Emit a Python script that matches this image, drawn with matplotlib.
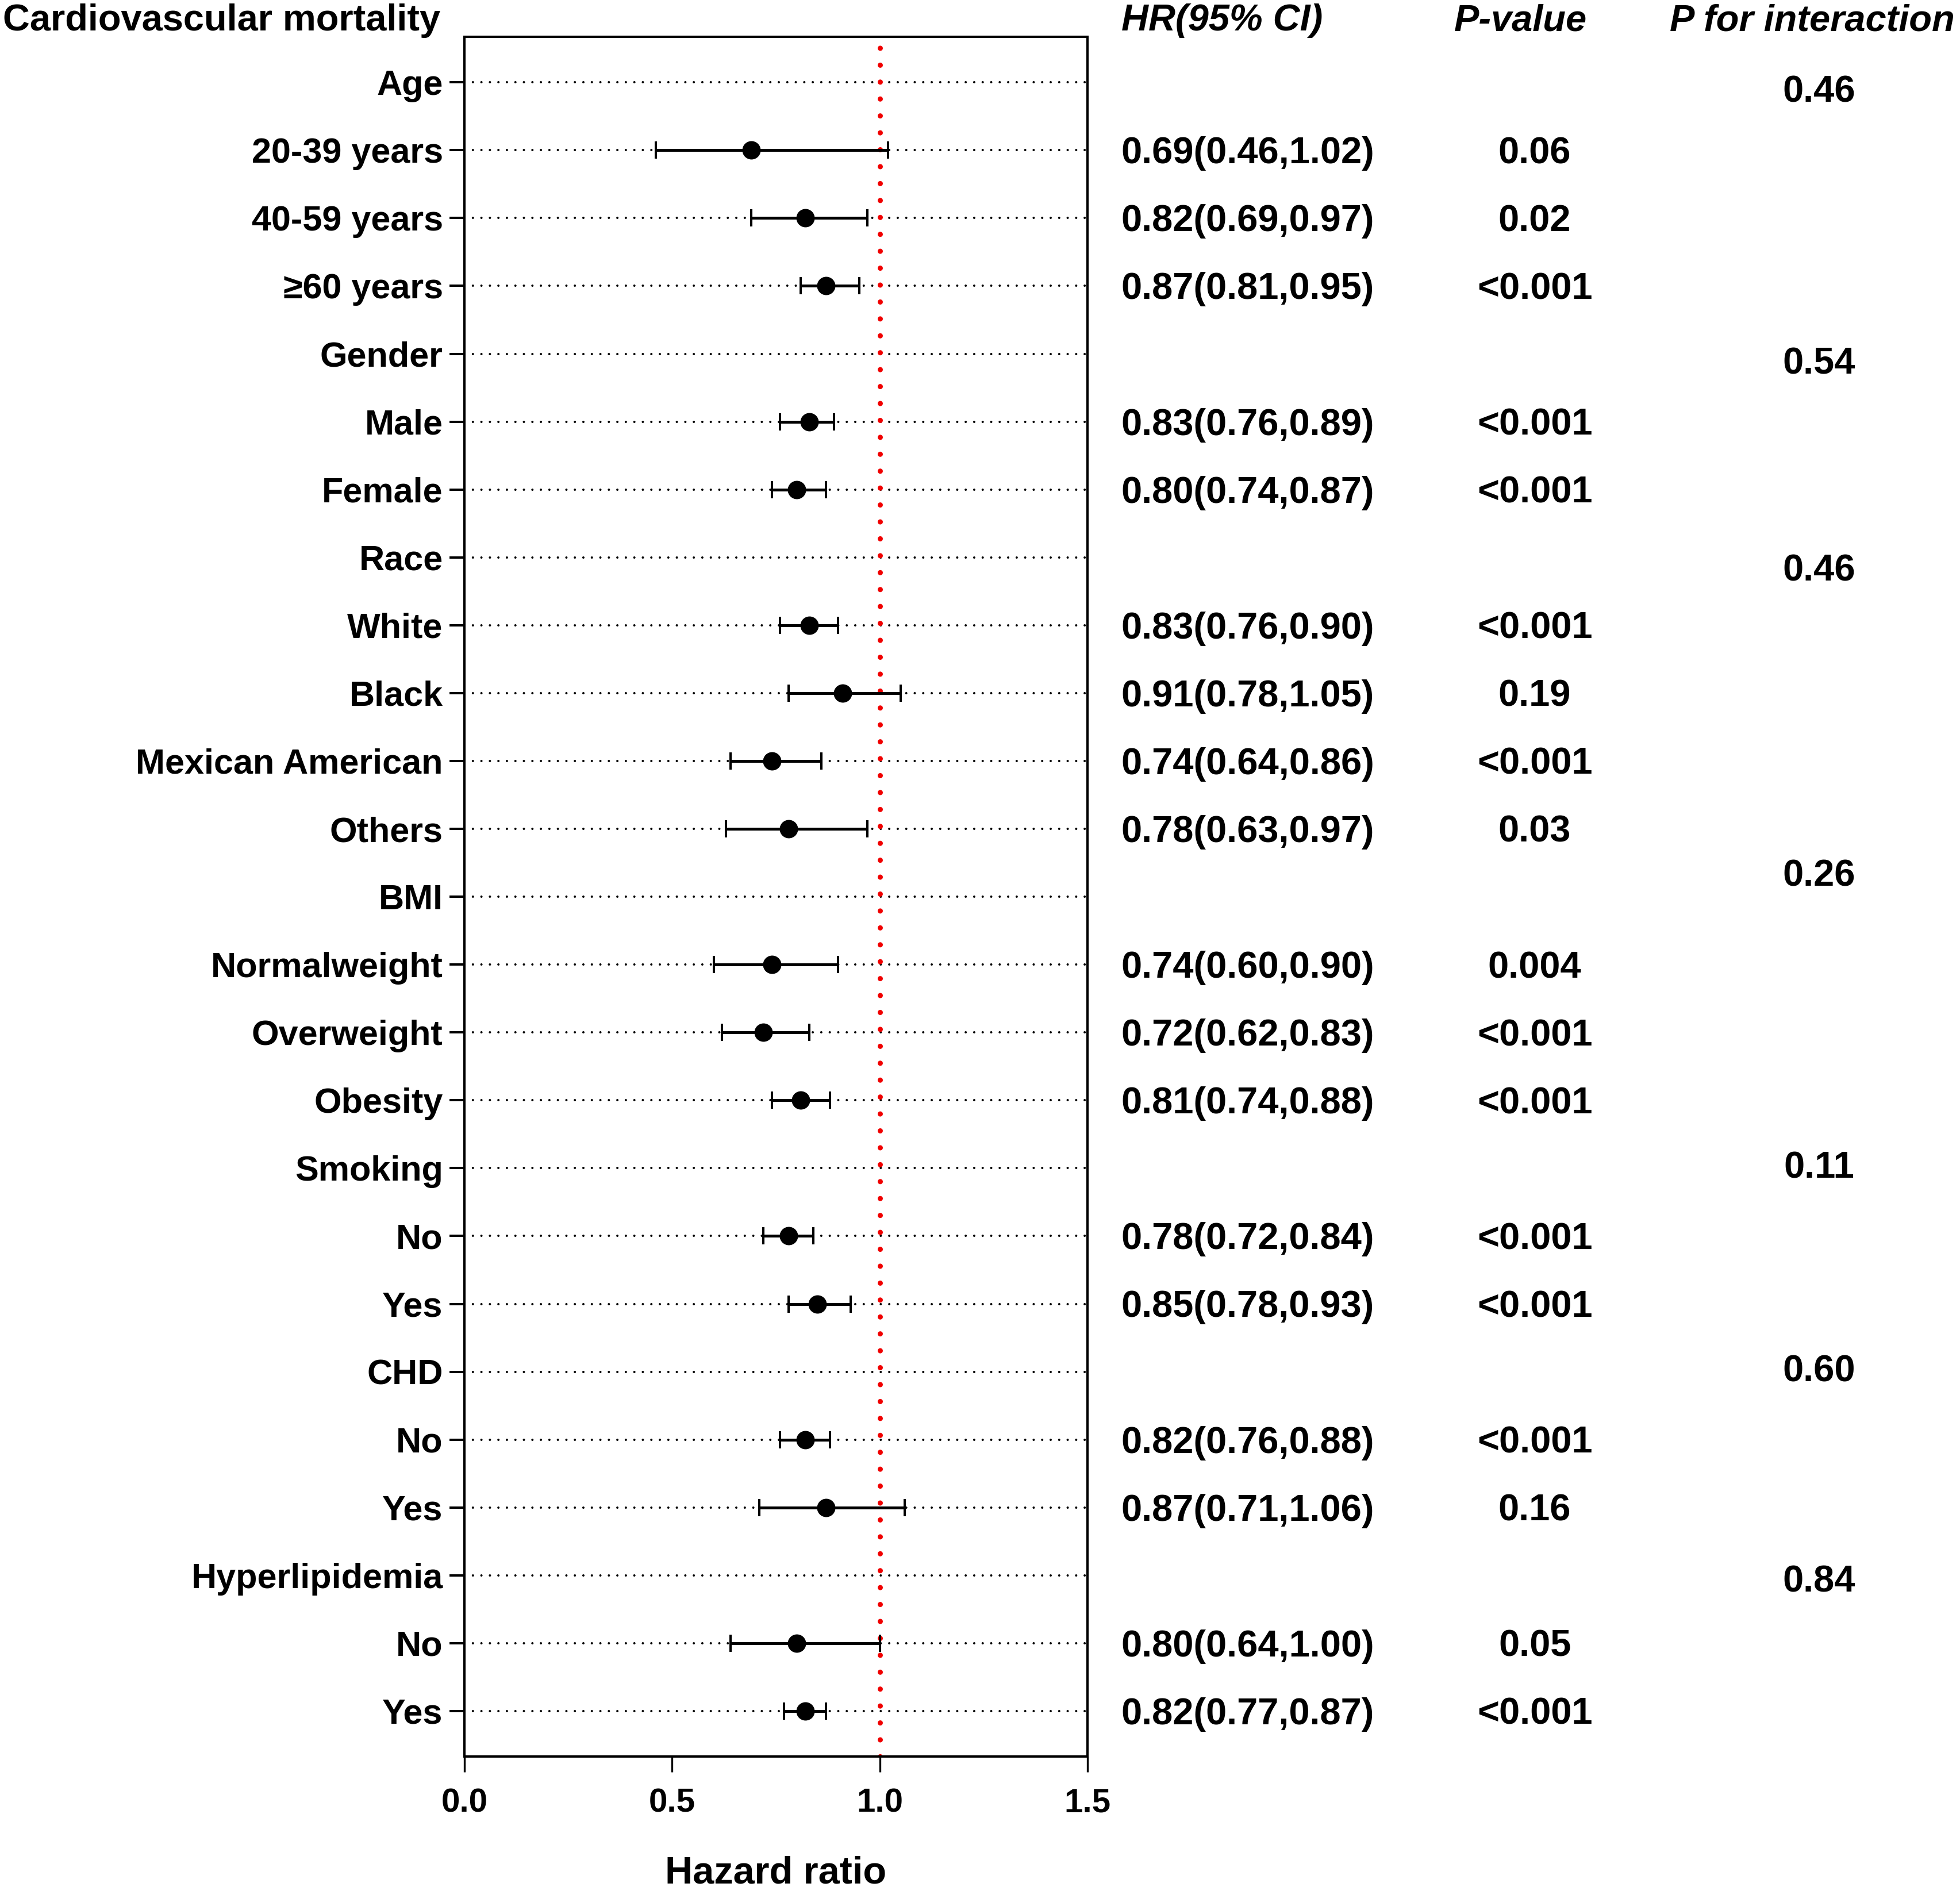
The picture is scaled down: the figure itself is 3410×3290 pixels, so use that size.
import numpy as np
import matplotlib
matplotlib.use("Agg")
import matplotlib.pyplot as plt
import matplotlib.transforms as mtransforms

plt.rcParams['font.family'] = ['Liberation Sans', 'DejaVu Sans']
plt.rcParams['font.weight'] = 'bold'

# dados do forest plot (linhas de cabeçalho sem estimativa -> NaN)
labels = ["Age", "20-39 years", "40-59 years", "\u226560 years",
          "Gender", "Male", "Female",
          "Race", "White", "Black", "Mexican American", "Others",
          "BMI", "Normalweight", "Overweight", "Obesity",
          "Smoking", "No", "Yes",
          "CHD", "No", "Yes",
          "Hyperlipidemia", "No", "Yes"]
hr = [np.nan, 0.69, 0.82, 0.87, np.nan, 0.83, 0.80, np.nan, 0.83, 0.91, 0.74, 0.78,
      np.nan, 0.74, 0.72, 0.81, np.nan, 0.78, 0.85, np.nan, 0.82, 0.87, np.nan, 0.80, 0.82]
lo = [np.nan, 0.46, 0.69, 0.81, np.nan, 0.76, 0.74, np.nan, 0.76, 0.78, 0.64, 0.63,
      np.nan, 0.60, 0.62, 0.74, np.nan, 0.72, 0.78, np.nan, 0.76, 0.71, np.nan, 0.64, 0.77]
hi = [np.nan, 1.02, 0.97, 0.95, np.nan, 0.89, 0.87, np.nan, 0.90, 1.05, 0.86, 0.97,
      np.nan, 0.90, 0.83, 0.88, np.nan, 0.84, 0.93, np.nan, 0.88, 1.06, np.nan, 1.00, 0.87]
p_values = ["", "0.06", "0.02", "<0.001", "", "<0.001", "<0.001", "", "<0.001", "0.19",
            "<0.001", "0.03", "", "0.004", "<0.001", "<0.001", "", "<0.001", "<0.001",
            "", "<0.001", "0.16", "", "0.05", "<0.001"]
p_interaction = ["0.46", "0.54", "0.46", "0.26", "0.11", "0.60", "0.84"]
# posição vertical (em unidades de linha) de cada P de interação
pint_rows = [0.15, 4.15, 7.2, 11.7, 16.0, 19.0, 22.1]
xticks = [0.0, 0.5, 1.0, 1.5]

hr = np.array(hr)
lo = np.array(lo)
hi = np.array(hi)
rows = np.arange(len(labels))

fig = plt.figure(figsize=(17.05, 16.45), dpi=200)
ax = fig.add_axes([0.237, 0.0711, 0.3178, 0.9094])

# linhas pontilhadas de referência
ax.hlines(rows, 0, 1.5, colors='black', linestyles=(0, (0.01, 3.66)), linewidth=1.45,
          capstyle='round', zorder=1)
ax.axvline(1.0, color='#f00000', linestyle=(0, (0.01, 3.25)), linewidth=3.25,
           dash_capstyle='round', zorder=2)

ok = ~np.isnan(hr)
ax.errorbar(hr[ok], rows[ok], xerr=[hr[ok] - lo[ok], hi[ok] - hr[ok]], fmt='o',
            color='black', ms=10.5, elinewidth=1.8, capsize=5.3, capthick=1.45, zorder=3)

ax.set_xlim(0, 1.5)
ax.set_ylim(len(labels) - 0.33, -0.67)
ax.set_yticks(rows)
ax.set_yticklabels(labels, fontsize=22, fontweight='bold')
ax.set_xticks(xticks)
ax.set_xticklabels([f"{t:.1f}" for t in xticks], fontsize=21, fontweight='bold')
ax.tick_params(axis='y', length=9.5, width=1.45, pad=4)
ax.tick_params(axis='x', length=9.7, width=1.2, pad=10)
for s in ax.spines.values():
    s.set_linewidth(1.45)
ax.set_xlabel("Hazard ratio", fontsize=24, fontweight='bold', labelpad=23)

# colunas de texto à direita
trans = mtransforms.blended_transform_factory(fig.transFigure, ax.transData)
for r in rows:
    if ok[r]:
        ax.text(0.572, r + 0.05, f"{hr[r]:.2f}({lo[r]:.2f},{hi[r]:.2f})", transform=trans,
                ha='left', va='center', fontsize=23.4, fontweight='bold', clip_on=False)
        ax.text(0.783, r + 0.05, p_values[r], transform=trans,
                ha='center', va='center', fontsize=23.4, fontweight='bold', clip_on=False)
for yy, txt in zip(pint_rows, p_interaction):
    ax.text(0.928, yy, txt, transform=trans, ha='center', va='center',
            fontsize=23.4, fontweight='bold', clip_on=False)

fig.text(0.0015, 0.989, "Cardiovascular mortality", ha='left', va='center',
         fontsize=23.4, fontweight='bold')
fig.text(0.572, 0.989, "HR(95% CI)", ha='left', va='center', fontsize=23.4,
         fontweight='bold', style='italic')
fig.text(0.742, 0.989, "P-value", ha='left', va='center', fontsize=23.4,
         fontweight='bold', style='italic')
fig.text(0.852, 0.989, "P for interaction", ha='left', va='center', fontsize=23.4,
         fontweight='bold', style='italic')

fig.savefig("out.png", dpi=200)
